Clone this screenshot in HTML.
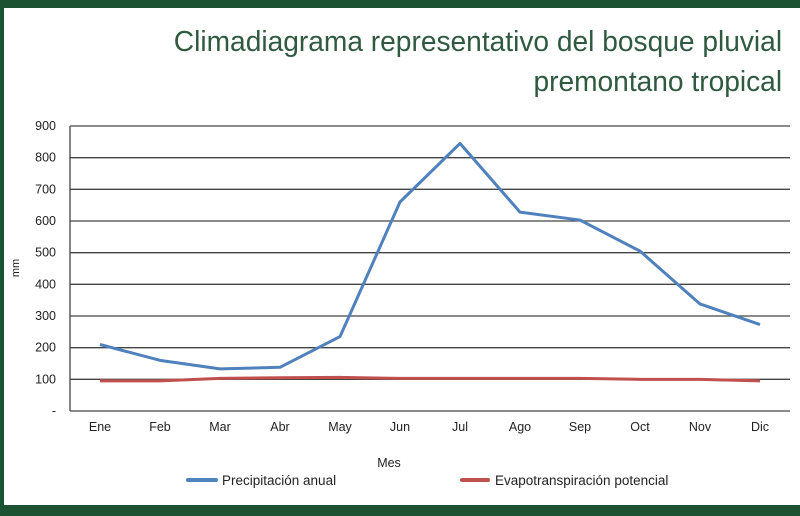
<!DOCTYPE html>
<html><head><meta charset="utf-8"><style>
body{margin:0;width:800px;height:516px;background:#fff;position:relative;overflow:hidden;font-family:"Liberation Sans",sans-serif}
#t{position:absolute;right:18px;top:22px;text-align:right;color:#2f5a40;font-size:29px;line-height:40px;font-family:"Liberation Sans Narrow","Liberation Sans",sans-serif;transform-origin:right top;transform:scaleX(0.97);font-weight:300}
</style></head><body>
<div style="position:absolute;left:0;top:0;width:800px;height:8px;background:#1c5232"></div>
<div style="position:absolute;left:0;top:0;width:4px;height:516px;background:#1c5232"></div>
<div style="position:absolute;left:0;top:505px;width:800px;height:11px;background:#1c5232"></div>
<div id="t">Climadiagrama representativo del bosque pluvial<br>premontano tropical</div>
<svg id="c" width="800" height="516" style="position:absolute;left:0;top:0"></svg>
<script>
const months=["Ene","Feb","Mar","Abr","May","Jun","Jul","Ago","Sep","Oct","Nov","Dic"];
const precip=[210,160,133,138,235,660,845,628,603,505,338,273];
const evapo=[95,95,103,105,106,103,103,103,103,100,100,95];
const yTicks=[0,100,200,300,400,500,600,700,800,900];
const yTickLabels=["-","100","200","300","400","500","600","700","800","900"];
const svg=document.getElementById('c');const NS="http://www.w3.org/2000/svg";
const L=70,R=790,T=126,B=411;
const x=i=>L+(i+0.5)*(R-L)/months.length;
const y=v=>B-v/900*(B-T);
function mk(tag,a,txt){const e=document.createElementNS(NS,tag);for(const k in a)e.setAttribute(k,a[k]);if(txt!==undefined)e.textContent=txt;svg.appendChild(e);return e;}
yTicks.forEach((v,i)=>{
 const g=mk('line',{x1:L,x2:R,y1:y(v),y2:y(v),stroke:'#444','stroke-width':1.3});
 
 
 const t=mk('text',{x:56,y:y(v)+4,'text-anchor':'end','font-size':12.5,fill:'#222'},yTickLabels[i]);
 
 
});
const ax=mk('line',{x1:L,x2:L,y1:T,y2:B,stroke:'#444','stroke-width':1.3});


months.forEach((m,i)=>{
 const t=mk('text',{x:x(i),y:431,'text-anchor':'middle','font-size':12.5,fill:'#222'},m);
 
 
});
const yt=mk('text',{x:0,y:0,'text-anchor':'middle','font-size':11,fill:'#222',transform:'translate(19,268) rotate(-90)'},'mm');


const xt=mk('text',{x:389,y:467,'text-anchor':'middle','font-size':12.5,fill:'#222'},'Mes');


const pe=mk('polyline',{points:evapo.map((v,i)=>x(i)+','+y(v)).join(' '),fill:'none',stroke:'#c0504d','stroke-width':3,'stroke-linejoin':'round'});


const pp=mk('polyline',{points:precip.map((v,i)=>x(i)+','+y(v)).join(' '),fill:'none',stroke:'#4f81bd','stroke-width':3,'stroke-linejoin':'round'});


const l1=mk('line',{x1:188,x2:216,y1:480,y2:480,stroke:'#4f81bd','stroke-width':4,'stroke-linecap':'round'});


const lt1=mk('text',{x:222,y:485,'font-size':13.5,fill:'#222'},'Precipitación anual');


const l2=mk('line',{x1:462,x2:488,y1:480,y2:480,stroke:'#c0504d','stroke-width':4,'stroke-linecap':'round'});


const lt2=mk('text',{x:495,y:485,'font-size':13.5,fill:'#222'},'Evapotranspiración potencial');


</script>
</body></html>
